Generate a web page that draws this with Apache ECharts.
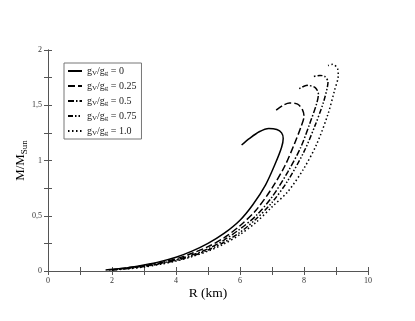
<!DOCTYPE html>
<html lang="en">
<head>
    <meta charset="UTF-8">
    <title>M-R</title>
    <script src="https://cdn.jsdelivr.net/npm/echarts@6.0.0/dist/echarts.min.js"></script>
</head>
<body style="margin:0">
    <div id="chart" style="width: 415px; height: 321px;"></div>
    <script>
        // g_V/g_S curves, R (km) and M/M_sun
        const names = ['gV/gN = 0', 'gV/gS = 0.25', 'gV/gS = 0.5', 'gV/gS = 0.75', 'gV/gS = 1.0'];
        const r0 = [1.8, 2.2, 2.6, 3.0, 3.5, 4.0, 4.5, 5.0, 5.5, 6.0, 6.4, 6.8, 7.1, 7.3, 7.35, 7.3, 7.15, 6.9, 6.6, 6.3, 6.05];
        const m0 = [0.01, 0.02, 0.035, 0.055, 0.085, 0.125, 0.18, 0.25, 0.34, 0.46, 0.6, 0.78, 0.97, 1.12, 1.2, 1.25, 1.28, 1.29, 1.26, 1.2, 1.14];
        const r1 = [1.9, 2.5, 3.0, 3.5, 4.0, 4.5, 5.0, 5.5, 6.0, 6.5, 7.0, 7.4, 7.7, 7.9, 8.0, 7.95, 7.8, 7.55, 7.35, 7.1];
        const m1 = [0.01, 0.03, 0.05, 0.075, 0.11, 0.16, 0.22, 0.3, 0.41, 0.55, 0.75, 0.95, 1.15, 1.3, 1.4, 1.46, 1.51, 1.52, 1.5, 1.45];
        const r2 = [2.0, 2.5, 3.0, 3.5, 4.0, 4.5, 5.0, 5.5, 6.0, 6.5, 7.0, 7.5, 7.9, 8.2, 8.4, 8.45, 8.35, 8.1, 7.85];
        const m2 = [0.01, 0.025, 0.045, 0.07, 0.1, 0.145, 0.2, 0.28, 0.38, 0.5, 0.67, 0.9, 1.12, 1.35, 1.52, 1.6, 1.66, 1.68, 1.65];
        const r3 = [2.0, 2.5, 3.0, 3.5, 4.0, 4.5, 5.0, 5.5, 6.0, 6.5, 7.0, 7.5, 8.0, 8.35, 8.6, 8.72, 8.75, 8.65, 8.5, 8.3];
        const m3 = [0.01, 0.022, 0.04, 0.065, 0.095, 0.135, 0.19, 0.26, 0.35, 0.47, 0.62, 0.82, 1.08, 1.32, 1.52, 1.65, 1.71, 1.76, 1.77, 1.76];
        const r4 = [2.0, 2.5, 3.0, 3.5, 4.0, 4.5, 5.0, 5.5, 6.0, 6.5, 7.0, 7.5, 8.0, 8.4, 8.75, 8.95, 9.07, 9.05, 8.9, 8.75];
        const m4 = [0.01, 0.02, 0.037, 0.06, 0.09, 0.13, 0.18, 0.245, 0.33, 0.44, 0.58, 0.72, 0.93, 1.15, 1.42, 1.63, 1.77, 1.83, 1.87, 1.86];
        const dashes = ['solid', [7, 3], [6, 2, 1.5, 2], [5, 2, 1.5, 2, 1.5, 2], [1.5, 2.5]];

        const rs = [r0, r1, r2, r3, r4];
        const ms = [m0, m1, m2, m3, m4];
        const font = 'Liberation Serif';

        const myChart = echarts.init(document.getElementById('chart'));

        let series = [];
        for (let k = 0; k < names.length; k++) {
            let pts = [];
            for (let i = 0; i < rs[k].length; i++) {
                pts.push([rs[k][i], ms[k][i]]);
            }
            series.push({
                name: names[k],
                type: 'line',
                data: pts,
                smooth: 0.3,
                symbol: 'none',
                lineStyle: { color: '#000', width: 1.5, type: dashes[k] },
                itemStyle: { color: '#000' }
            });
        }

        // ticks every minor step, labels only on the major ones
        // (negative length so the ticks point into the plot)
        function axisBase(show, major) {
            return {
                nameMoveOverlap: false,
                axisLine: { show: true, lineStyle: { color: '#555', width: 1 } },
                axisTick: { show: true, inside: false, length: -4, lineStyle: { color: '#555' } },
                splitLine: { show: false },
                axisLabel: {
                    show: show, color: '#333', fontFamily: font, fontSize: 8, margin: 6,
                    formatter: function (v) {
                        if (Math.abs(v / major - Math.round(v / major)) > 1e-6) return '';
                        return String(v).replace('.', ',');
                    }
                }
            };
        }

        let option = {
            animation: false,
            grid: { left: 48, right: 47, top: 50, bottom: 50 },
            legend: {
                orient: 'vertical',
                left: 64,
                top: 63,
                padding: [3, 5, 2, 3],
                itemGap: 4,
                itemWidth: 14,
                itemHeight: 10,
                borderColor: '#777',
                borderWidth: 1,
                data: names,
                itemStyle: { opacity: 0 },
                formatter: function (n) {
                    let p = n.split(' = ');
                    let s = p[0].charAt(3);
                    return 'g{s|V}/g{s|' + s + '} = ' + p[1];
                },
                textStyle: {
                    fontFamily: font, fontSize: 10, color: '#222',
                    rich: { s: { fontFamily: font, fontSize: 7, color: '#222', verticalAlign: 'bottom', padding: [5, 0, 0, 0] } }
                }
            },
            xAxis: [
                Object.assign(axisBase(true, 2), {
                    type: 'value', min: 0, max: 10, interval: 1, position: 'bottom',
                    name: 'R (km)', nameLocation: 'middle', nameGap: 15,
                    nameTextStyle: { fontFamily: font, fontSize: 13.5, color: '#000' }
                }),
                Object.assign(axisBase(false, 2), {
                    type: 'value', min: 0, max: 10, interval: 1, position: 'top'
                })
            ],
            yAxis: [
                Object.assign(axisBase(true, 0.5), {
                    type: 'value', min: 0, max: 2, interval: 0.25, position: 'left',
                    name: '{m|M/M}{s|Sun}', nameLocation: 'middle', nameGap: 19,
                    nameTextStyle: {
                        fontFamily: font, fontSize: 13, color: '#000',
                        rich: {
                            m: { fontFamily: font, fontSize: 13, color: '#000' },
                            s: { fontFamily: font, fontSize: 9, color: '#000', verticalAlign: 'bottom', padding: [8, 0, 0, 0] }
                        }
                    }
                }),
                Object.assign(axisBase(false, 0.5), {
                    type: 'value', min: 0, max: 2, interval: 0.25, position: 'right'
                })
            ],
            series: series
        };
        myChart.setOption(option);
    </script>
</body>
</html>
